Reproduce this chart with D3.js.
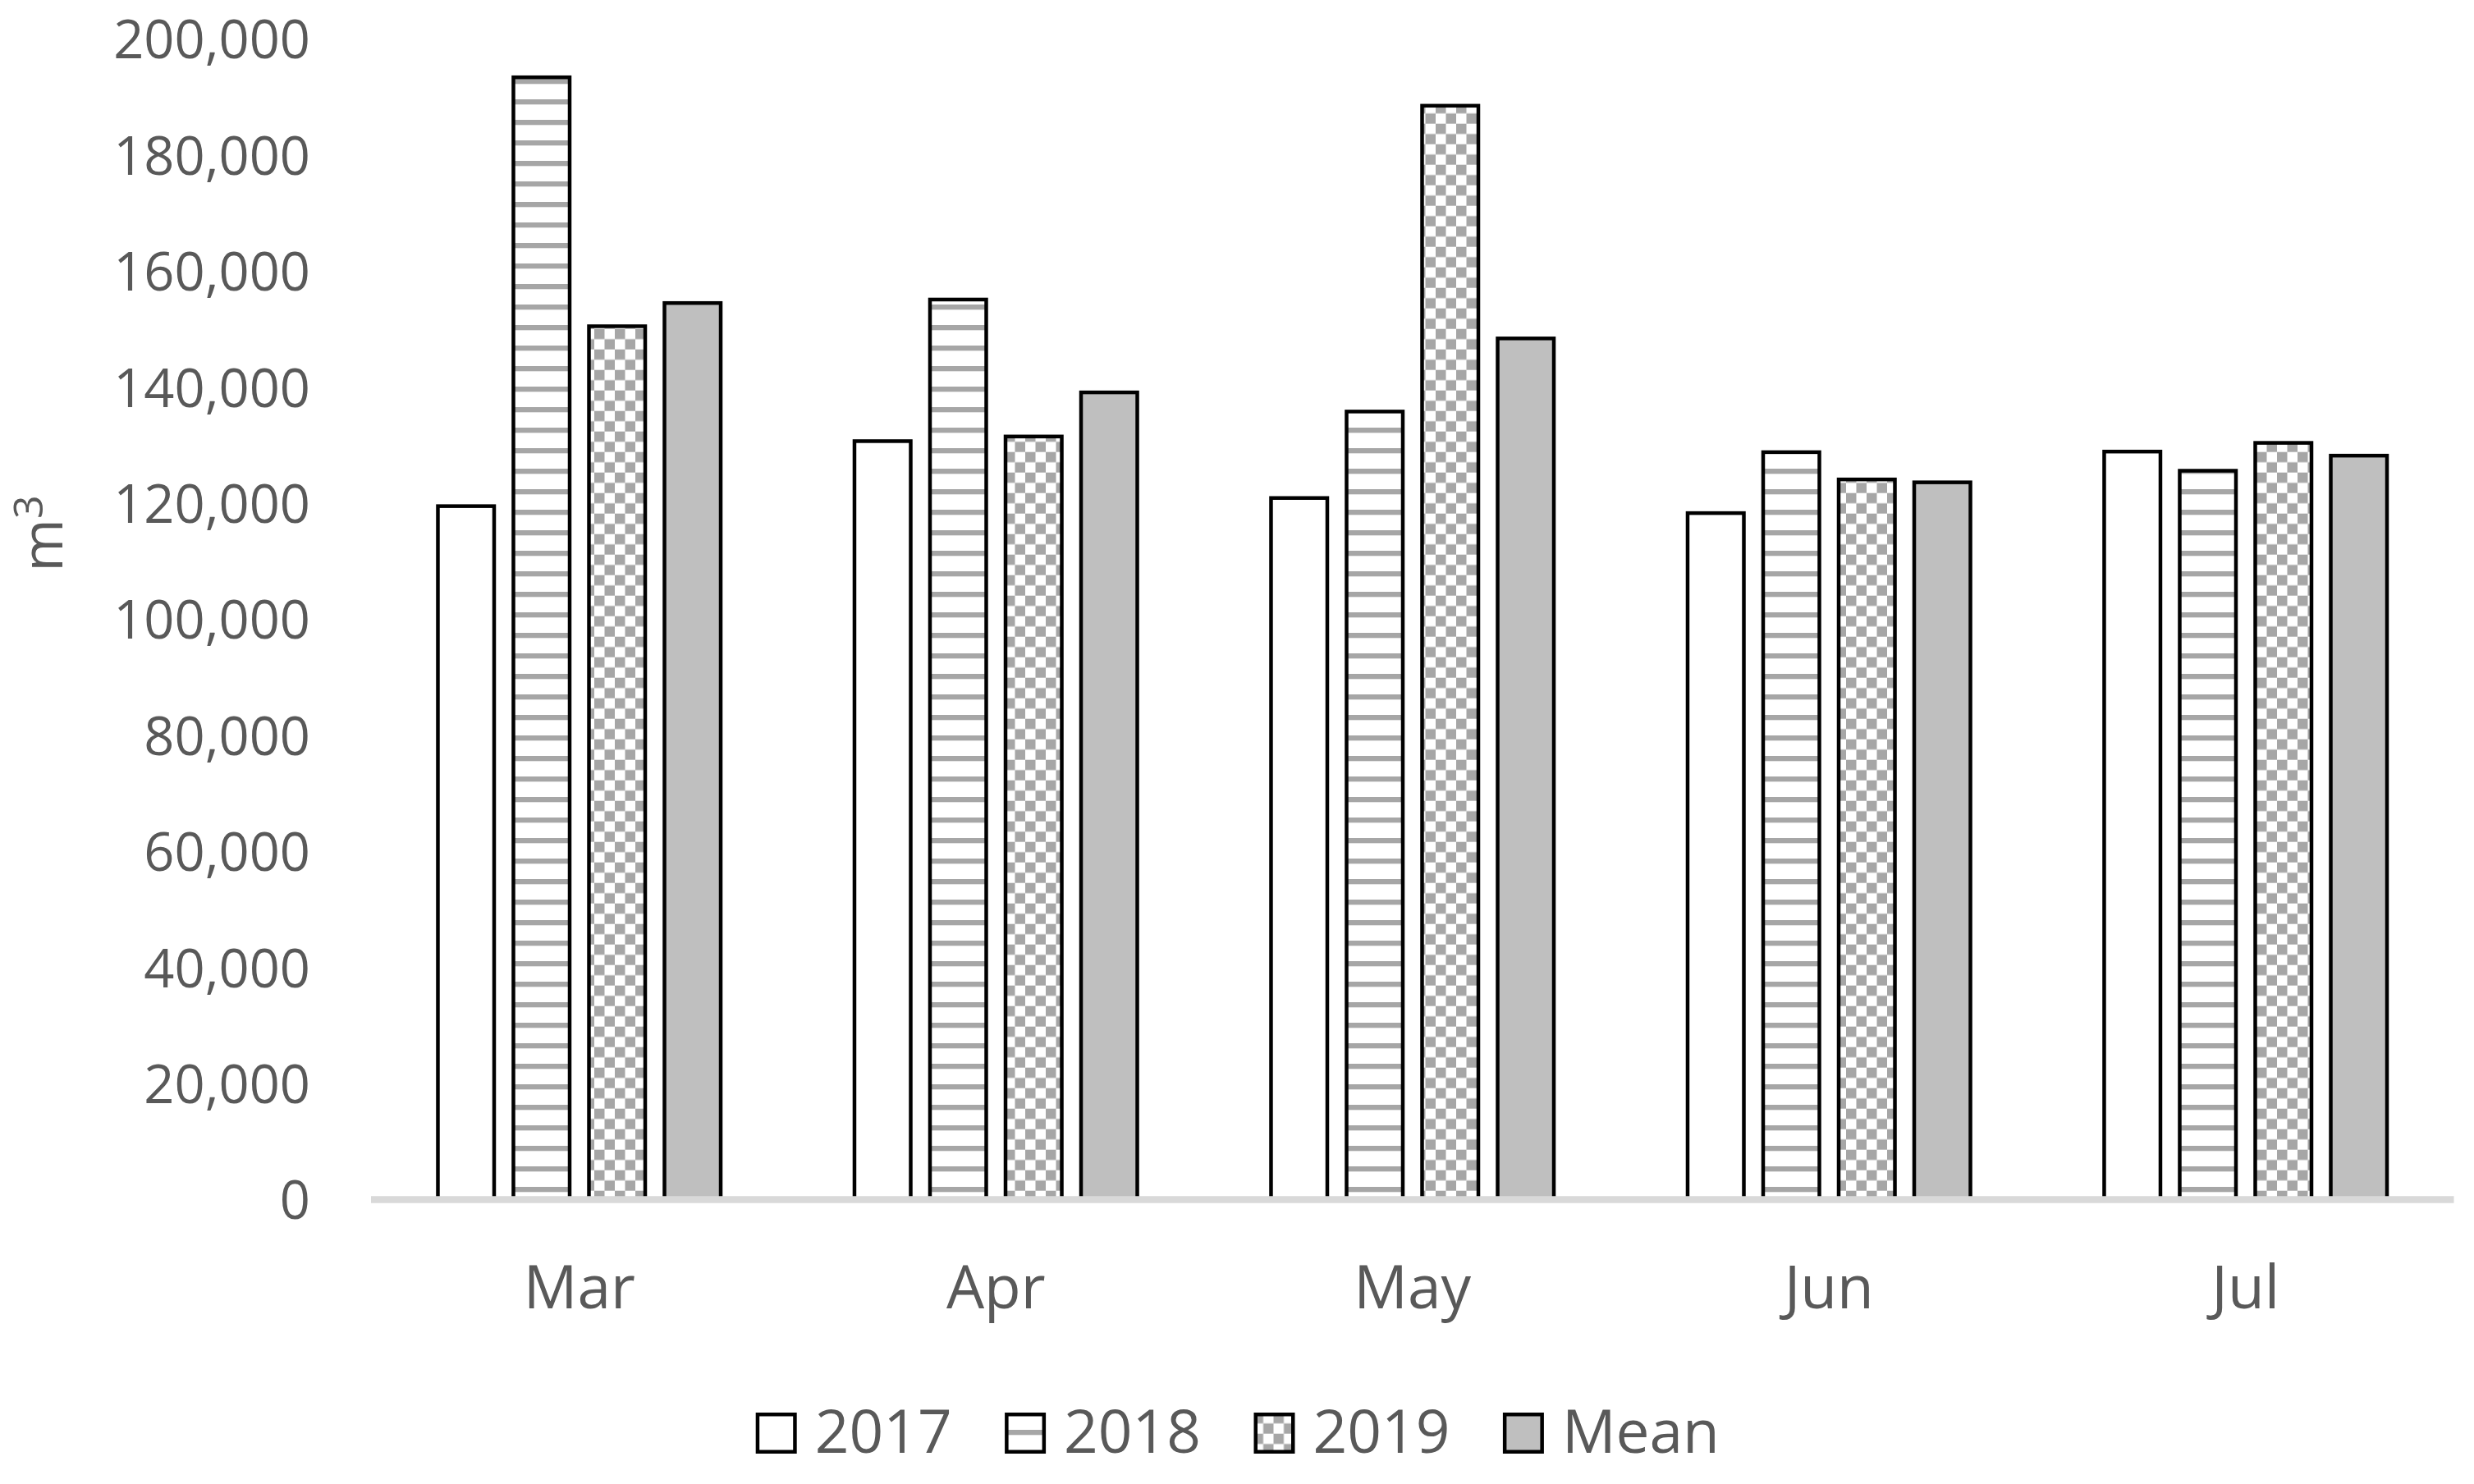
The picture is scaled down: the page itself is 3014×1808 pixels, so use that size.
<!DOCTYPE html>
<html>
<head>
<meta charset="utf-8">
<script src="https://cdn.jsdelivr.net/npm/d3@7"></script>
<style>
  body { margin: 0; background: #fff; }
  text { font-family: "Open Sans", sans-serif; fill: #595959; }
</style>
</head>
<body>
<script>
// values (m3)
var months = ["Mar", "Apr", "May", "Jun", "Jul"]
var series = ["2017", "2018", "2019", "Mean"]
var v2017 = [119500, 130700, 120900, 118300, 128900]
var v2018 = [193400, 155100, 135800, 128800, 125600]
var v2019 = [150500, 131500, 188500, 124100, 130400]
var vMean = [154500, 139100, 148400, 123600, 128200]
var yTicks = [0, 20000, 40000, 60000, 80000, 100000, 120000, 140000, 160000, 180000, 200000]

var values = [v2017, v2018, v2019, vMean]
var rows = []
months.forEach(function(m, i) {
  series.forEach(function(s, j) {
    rows.push({month: m, series: s, value: values[j][i]})
  })
})

var width = 3014, height = 1808
var plot = {left: 452, right: 2989.5, top: 47.5, bottom: 1461.5}

var svg = d3.select("body").append("svg")
  .attr("width", width)
  .attr("height", height)

// fills: plain white, horizontal stripes, checkerboard, solid grey
var defs = svg.append("defs")
var stripes = defs.append("pattern")
  .attr("id", "stripes")
  .attr("patternUnits", "userSpaceOnUse")
  .attr("x", 0).attr("y", 21)
  .attr("width", 25).attr("height", 25)
stripes.append("rect").attr("width", 25).attr("height", 25).attr("fill", "#fff")
stripes.append("rect").attr("width", 25).attr("height", 6.3).attr("fill", "#a6a6a6")

var checker = defs.append("pattern")
  .attr("id", "checker")
  .attr("patternUnits", "userSpaceOnUse")
  .attr("x", -1).attr("y", 0.7)
  .attr("width", 25).attr("height", 25)
checker.append("rect").attr("width", 25).attr("height", 25).attr("fill", "#fff")
checker.append("rect").attr("width", 12.5).attr("height", 12.5).attr("fill", "#a6a6a6")
checker.append("rect").attr("x", 12.5).attr("y", 12.5).attr("width", 12.5).attr("height", 12.5).attr("fill", "#a6a6a6")

var fill = d3.scaleOrdinal()
  .domain(series)
  .range(["#ffffff", "url(#stripes)", "url(#checker)", "#bfbfbf"])

var x0 = d3.scaleBand()
  .domain(months)
  .range([plot.left, plot.right])
  .padding(0)

var x1 = d3.scaleBand()
  .domain(series)
  .range([0, x0.bandwidth()])
  .paddingInner(0.2065)
  .paddingOuter(0.861)

var y = d3.scaleLinear()
  .domain([0, 200000])
  .range([plot.bottom, plot.top])

var sw = 4.5

// bars
svg.append("g")
  .selectAll("rect")
  .data(rows)
  .join("rect")
  .attr("x", function(d) { return x0(d.month) + x1(d.series) + sw / 2 })
  .attr("y", function(d) { return y(d.value) })
  .attr("width", x1.bandwidth() - sw)
  .attr("height", function(d) { return y(0) - y(d.value) })
  .attr("fill", function(d) { return fill(d.series) })
  .attr("stroke", "#000")
  .attr("stroke-width", sw)

// x axis line
svg.append("line")
  .attr("x1", plot.left).attr("x2", plot.right)
  .attr("y1", y(0)).attr("y2", y(0))
  .attr("stroke", "#d9d9d9")
  .attr("stroke-width", 8.3)

// y axis labels (no line, no ticks)
var yAxis = svg.append("g")
  .attr("transform", "translate(" + 378 + ",0)")
  .call(d3.axisLeft(y).tickValues(yTicks).tickFormat(d3.format(",")).tickSize(0).tickPadding(0))
yAxis.select(".domain").remove()
yAxis.selectAll("text")
  .attr("fill", "#595959")
  .attr("font-family", "'Open Sans', sans-serif")
  .attr("font-size", 65)
  .attr("dy", "0.36em")

// x axis labels
var xAxis = svg.append("g")
  .attr("transform", "translate(0," + 1594 + ")")
  .call(d3.axisBottom(x0).tickSize(0).tickPadding(0))
xAxis.select(".domain").remove()
xAxis.selectAll("text")
  .attr("fill", "#595959")
  .attr("font-family", "'Open Sans', sans-serif")
  .attr("font-size", 73)
  .attr("dy", 0)

// y title m3
var title = svg.append("text")
  .attr("transform", "translate(76,650) rotate(-90)")
  .attr("text-anchor", "middle")
title.append("tspan").attr("font-size", 70).text("m")
title.append("tspan").attr("font-size", 50).attr("dy", -24).text("3")

// legend
var legend = svg.append("g")
  .selectAll("g")
  .data(series)
  .join("g")
  .attr("transform", function(d, i) { return "translate(" + (920.7 + i * 303.4) + ",1721)" })

legend.append("rect")
  .attr("x", sw / 2).attr("y", sw / 2)
  .attr("width", 50 - sw).attr("height", 50 - sw)
  .attr("fill", function(d) { return fill(d) })
  .attr("stroke", "#000")
  .attr("stroke-width", sw)

legend.append("text")
  .attr("x", 72)
  .attr("y", 49)
  .attr("font-size", 73)
  .text(function(d) { return d })
</script>
</body>
</html>
